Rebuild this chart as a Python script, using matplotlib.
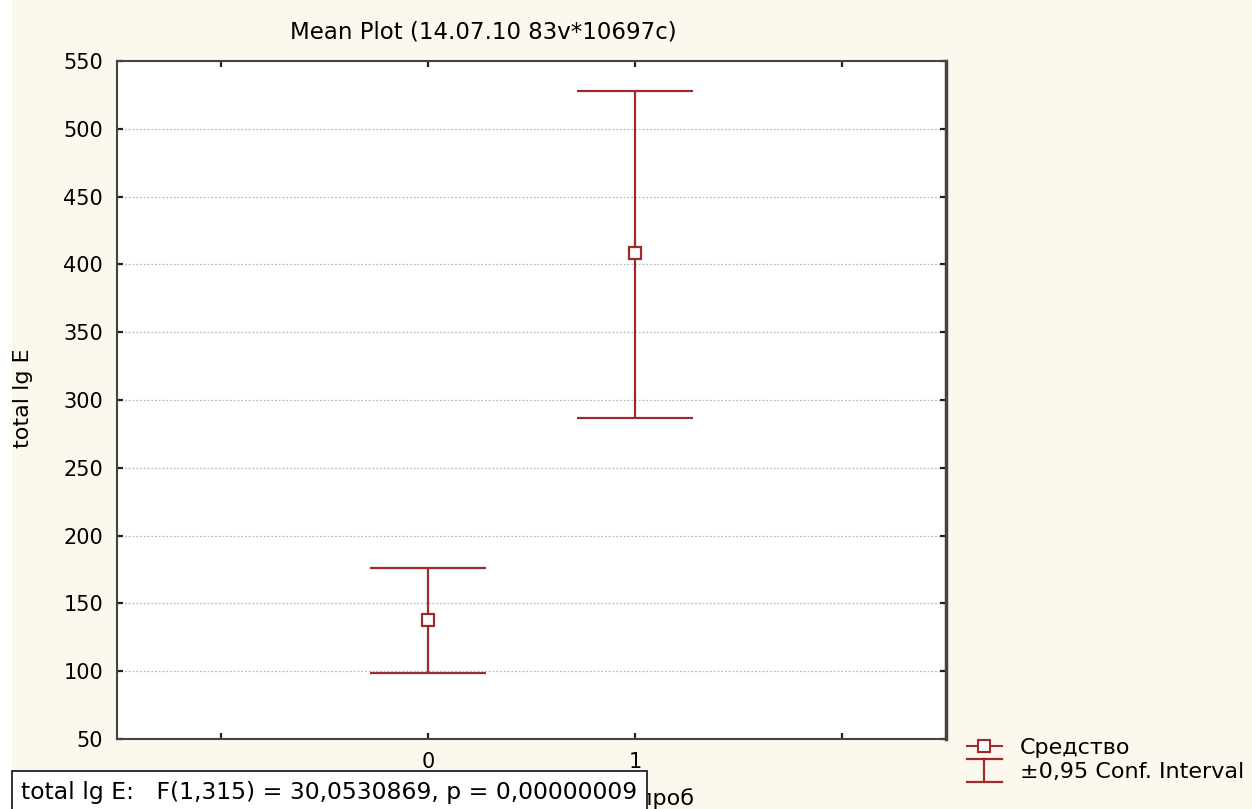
import matplotlib
matplotlib.use("Agg")
import matplotlib.pyplot as plt
from matplotlib.lines import Line2D
from matplotlib.patches import Rectangle
from matplotlib.legend_handler import HandlerBase

plt.rcParams['font.family'] = ['DejaVu Sans']

groups = [0, 1]
means = [137.8, 408.3]
ci_low = [98.7, 286.7]
ci_high = [176.1, 527.9]
yticks = [50, 100, 150, 200, 250, 300, 350, 400, 450, 500, 550]
xtick_pos = [-1, 0, 1, 2]
xtick_labels = ['', '0', '1', '']

title = "Mean Plot (14.07.10 83v*10697c)"
ylabel = "total lg E"
stat_text = "total lg E:   F(1,315) = 30,0530869, p = 0,00000009"
legend_labels = ["Средство", "±0,95 Conf. Interval"]

red = '#9E2A2B'
bg = '#FDF8EE'
FS = 15

W, H = 1252, 809
fig = plt.figure(figsize=(W/100, H/100), dpi=100, facecolor=bg)
fig.patches.append(Rectangle((0, 0), 12/W, 1, transform=fig.transFigure,
                             facecolor='white', edgecolor='none', zorder=0))
ax = fig.add_axes([117/W, 1-739/H, (946-117)/W, (739-61)/H])
ax.set_facecolor('white')

ax.set_xlim(-1.5, 2.5)
ax.set_ylim(50, 550)
ax.set_yticks(yticks)
ax.set_xticks(xtick_pos)
ax.set_xticklabels(xtick_labels)
ax.tick_params(axis='both', labelsize=FS, length=4, width=1.6, color='#222222',
               top=True, right=True, direction='in')
ax.tick_params(axis='y', pad=10)
ax.tick_params(axis='x', pad=9)
for sp in ax.spines.values():
    sp.set_linewidth(1.5)
    sp.set_color('#444444')
ax.spines['right'].set_linewidth(2.5)
ax.yaxis.grid(True, linestyle=(0, (1.5, 1.5)), color='#BBBBBB', linewidth=0.9)
ax.set_axisbelow(True)

for g, m, lo, hi in zip(groups, means, ci_low, ci_high):
    ax.errorbar([g], [m], yerr=[[m - lo], [hi - m]], fmt='none', ecolor=red,
                elinewidth=1.6, capsize=42, capthick=1.6, zorder=3)
ax.plot(groups, means, linestyle='none', marker='s', markersize=8.5,
        markerfacecolor='white', markeredgecolor=red, markeredgewidth=1.6, zorder=4)

fig.text(483/W, 1-32/H, title, ha='center', va='center', fontsize=16.5)
fig.text(23/W, 1-398/H, ylabel, ha='center', va='center', rotation=90, fontsize=16)

# x label partially hidden behind stats box
fig.text(694/W, 1-799/H, "проб", ha='right', va='center', fontsize=16, zorder=1)
fig.text(21/W, 1-792/H, stat_text, ha='left', va='center', fontsize=16.9, zorder=5,
         bbox=dict(boxstyle='square,pad=0.4', facecolor='white', edgecolor='#222222', linewidth=1.3))


class CIHandler(HandlerBase):
    def create_artists(self, legend, orig_handle, xdescent, ydescent, width, height, fontsize, trans):
        x0, x1 = -xdescent, -xdescent + width
        xm = (x0 + x1) / 2
        y0, y1 = -ydescent - 0.25 * height, -ydescent + 1.2 * height
        kw = dict(color=red, linewidth=1.6, transform=trans)
        return [Line2D([x0, x1], [y1, y1], **kw),
                Line2D([x0, x1], [y0, y0], **kw),
                Line2D([xm, xm], [y0, y1], **kw)]


h1 = Line2D([], [], color=red, linewidth=1.5, marker='s', markersize=8,
            markerfacecolor='white', markeredgecolor=red, markeredgewidth=1.5)
h2 = object()
leg = fig.legend([h1, h2], legend_labels, loc='upper left',
                 bbox_to_anchor=(951/W, 1-722/H), frameon=False, fontsize=16,
                 handlelength=1.6, handletextpad=0.8, labelspacing=0.2, borderpad=0.2,
                 handler_map={object: CIHandler()})

fig.savefig('out.png', dpi=100, facecolor=bg)
